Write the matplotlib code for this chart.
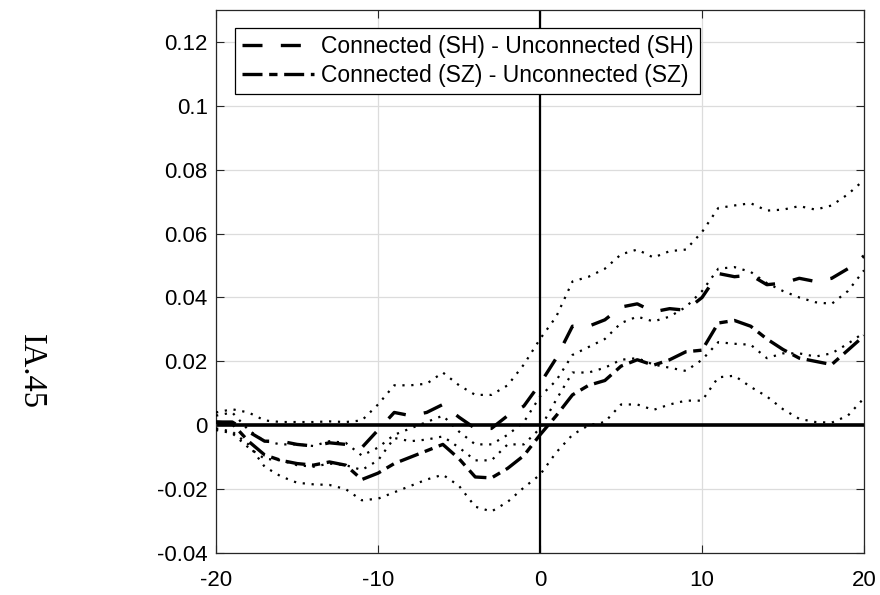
import matplotlib
matplotlib.use("Agg")
import matplotlib.pyplot as plt

plt.rcParams['font.family'] = ['Liberation Sans', 'DejaVu Sans']
plt.rcParams['axes.unicode_minus'] = False

# event days
days = list(range(-20, 21))

# Connected (SH) - Unconnected (SH)
sh = [0.001, 0.001, -0.002, -0.005, -0.005, -0.006, -0.0065, -0.0055, -0.006, -0.007,
      -0.0015, 0.004, 0.003, 0.004, 0.0065, 0.0025, -0.001, -0.001, 0.003, 0.006,
      0.013, 0.021, 0.031, 0.031, 0.033, 0.037, 0.038, 0.0355, 0.0365, 0.036,
      0.040, 0.0475, 0.0465, 0.047, 0.044, 0.0445, 0.046, 0.045, 0.046, 0.049, 0.053]
sh_hi = [0.004, 0.005, 0.004, 0.0015, 0.001, 0.001, 0.001, 0.0012, 0.001, 0.0015,
         0.0065, 0.0125, 0.0125, 0.013, 0.0165, 0.0125, 0.0095, 0.0095, 0.0125, 0.019,
         0.027, 0.034, 0.045, 0.0465, 0.049, 0.0535, 0.055, 0.0525, 0.0545, 0.055,
         0.0605, 0.068, 0.0688, 0.0695, 0.0672, 0.0675, 0.0686, 0.0675, 0.0688, 0.0723, 0.0768]
sh_lo = [-0.0015, -0.0025, -0.007, -0.0105, -0.011, -0.0125, -0.013, -0.012, -0.0125, -0.014,
         -0.011, -0.004, -0.005, -0.0045, -0.0035, -0.007, -0.011, -0.011, -0.006, -0.006,
         -0.001, 0.008, 0.0165, 0.0165, 0.018, 0.0205, 0.021, 0.019, 0.018, 0.017,
         0.0205, 0.026, 0.0255, 0.0252, 0.021, 0.0225, 0.0225, 0.0215, 0.0225, 0.0255, 0.029]

# Connected (SZ) - Unconnected (SZ)
sz = [0.001, 0.0005, -0.005, -0.0093, -0.011, -0.012, -0.0125, -0.0115, -0.0125, -0.017,
      -0.015, -0.012, -0.010, -0.008, -0.006, -0.0105, -0.0162, -0.0165, -0.0135, -0.0095,
      -0.003, 0.003, 0.0095, 0.0125, 0.014, 0.0185, 0.0205, 0.0188, 0.0205, 0.023,
      0.0235, 0.032, 0.0328, 0.031, 0.027, 0.0237, 0.021, 0.020, 0.019, 0.0235, 0.028]
sz_hi = [0.003, 0.004, -0.0015, -0.005, -0.006, -0.006, -0.0065, -0.005, -0.0055, -0.0095,
         -0.007, -0.003, -0.001, 0.001, 0.003, -0.002, -0.006, -0.006, -0.003, 0.001,
         0.009, 0.014, 0.022, 0.0245, 0.027, 0.032, 0.034, 0.0325, 0.034, 0.037,
         0.042, 0.049, 0.0495, 0.048, 0.0445, 0.042, 0.040, 0.0385, 0.038, 0.042, 0.0485]
sz_lo = [-0.001, -0.002, -0.006, -0.013, -0.016, -0.018, -0.0185, -0.0187, -0.020, -0.0235,
         -0.023, -0.021, -0.019, -0.017, -0.0155, -0.019, -0.0255, -0.027, -0.024, -0.0195,
         -0.0155, -0.0085, -0.003, 0.0, 0.001, 0.0065, 0.0065, 0.0048, 0.0065, 0.0077,
         0.0077, 0.015, 0.0155, 0.012, 0.009, 0.005, 0.002, 0.001, 0.0008, 0.003, 0.0085]

yticks = [-0.04, -0.02, 0, 0.02, 0.04, 0.06, 0.08, 0.1, 0.12]
ylabels = ['-0.04', '-0.02', '0', '0.02', '0.04', '0.06', '0.08', '0.1', '0.12']
xticks = [-20, -10, 0, 10, 20]

fig = plt.figure(figsize=(8.8, 5.95), dpi=100)
ax = fig.add_axes([0.2455, 0.0706, 0.7364, 0.9126])

ax.grid(True, color='#dcdcdc', linewidth=0.9)
ax.set_axisbelow(True)

# reference lines
ax.axhline(0, color='black', linewidth=2.6, zorder=2)
ax.axvline(0, color='black', linewidth=1.6, zorder=2)

# confidence bands
for band in [sh_hi, sh_lo, sz_hi, sz_lo]:
    ax.plot(days, band, color='black', linewidth=1.6, dashes=(1, 3.0), zorder=3)

ax.plot(days, sh, color='black', linewidth=2.4, dashes=(6, 5.5),
        label='Connected (SH) - Unconnected (SH)', zorder=4)
ax.plot(days, sz, color='black', linewidth=2.4, dashes=(6, 2, 2.5, 2),
        label='Connected (SZ) - Unconnected (SZ)', zorder=4)

ax.set_xlim(-20, 20)
ax.set_ylim(-0.04, 0.13)
ax.set_xticks(xticks)
ax.set_xticklabels([str(v) for v in xticks])
ax.set_yticks(yticks)
ax.set_yticklabels(ylabels)
ax.tick_params(direction='in', length=6, width=0.8, labelsize=16,
               top=True, right=True, colors='#262626', labelcolor='black')
ax.tick_params(axis='y', pad=6)
ax.tick_params(axis='x', pad=12)
for s in ax.spines.values():
    s.set_color('#262626')
    s.set_linewidth(0.9)

leg = ax.legend(loc='upper left', bbox_to_anchor=(0.029, 0.967), fontsize=16.5,
                frameon=True, fancybox=False, edgecolor='black', framealpha=1,
                handlelength=3.15, handletextpad=0.3, borderpad=0.3, labelspacing=0.28,
                borderaxespad=0)
leg.get_frame().set_linewidth(0.9)

fig.text(0.035, 0.375, 'IA.45', rotation=-90, fontsize=23.5,
         family=['Liberation Serif', 'DejaVu Serif'], ha='center', va='center')

fig.savefig('out.png', dpi=100)
